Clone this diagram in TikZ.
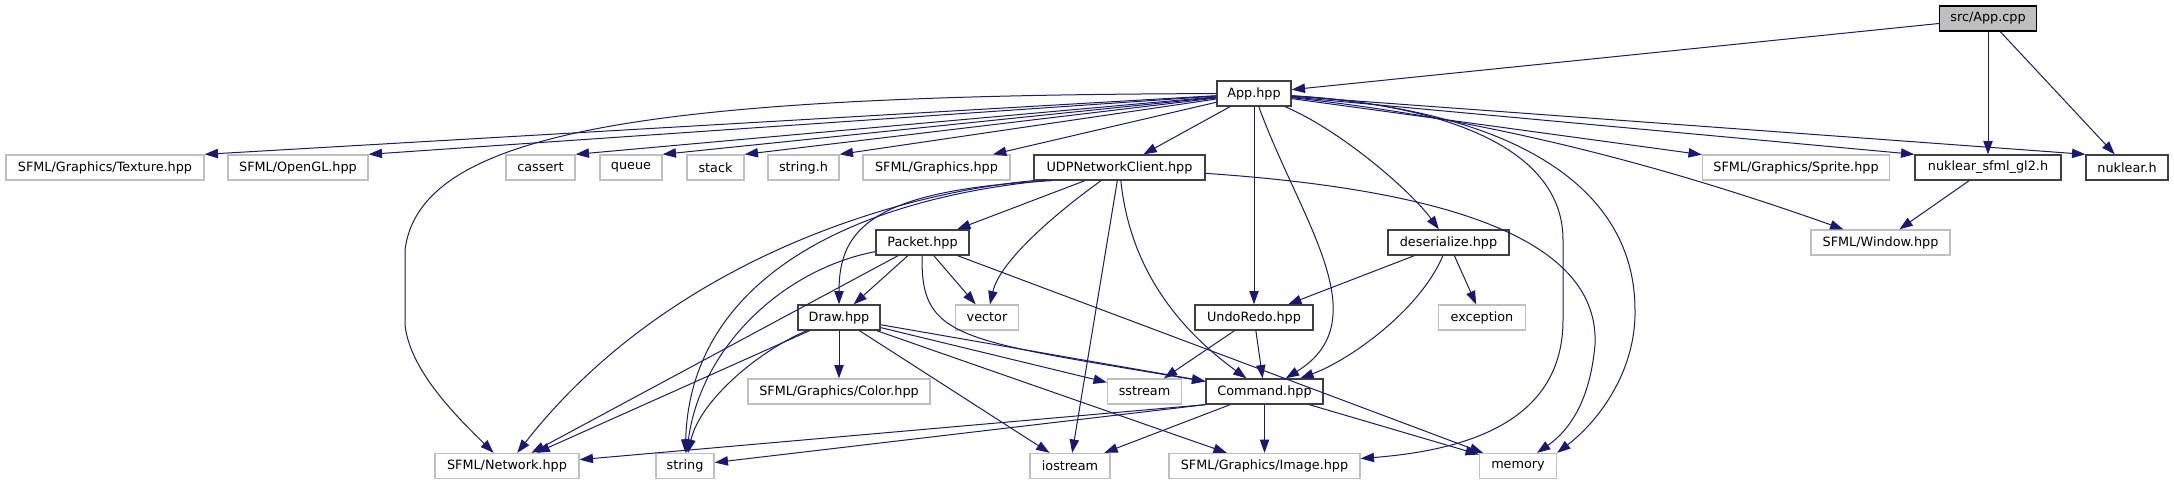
\documentclass[tikz,border=0pt]{standalone}
\usepackage{fontspec}
\setmainfont{DejaVu Sans}
\usetikzlibrary{arrows.meta}
\definecolor{edgeblue}{HTML}{191970}
\definecolor{grey25}{HTML}{404040}
\definecolor{grey75}{HTML}{BFBFBF}

\begin{document}
\begin{tikzpicture}[x=0.75pt,y=-0.75pt,
  every node/.style={font=\fontsize{9.6}{11}\selectfont,inner sep=0pt,minimum height=18.75pt},
  hdr/.style={draw=grey25,line width=1pt,fill=white,minimum width=#1*0.75pt},
  sys/.style={draw=grey75,line width=1pt,fill=white,minimum width=#1*0.75pt},
  root/.style={draw=black,line width=1pt,fill=grey75,minimum width=#1*0.75pt},
  ar/.style={-{Triangle[length=10pt,width=7pt]},draw=edgeblue,line width=0.75pt}]
\fill[white] (0,0) rectangle (2174,485);
% includes, row by row
\node[root=97] (appcpp) at (1988,18.5) {src/App.cpp};
\node[hdr=74] (apphpp) at (1254,93.5) {App.hpp};
\node[sys=198] (texture) at (105,167.5) {SFML/Graphics/Texture.hpp};
\node[sys=140] (opengl) at (298,167.5) {SFML/OpenGL.hpp};
\node[sys=69] (cassert) at (540.5,167.5) {cassert};
\node[sys=62] (queue) at (631,167.5) {queue};
\node[sys=57] (stack) at (715.5,167.5) {stack};
\node[sys=71] (stringh) at (803.5,167.5) {string.h};
\node[sys=147] (graphics) at (936.5,167.5) {SFML/Graphics.hpp};
\node[hdr=171] (udp) at (1119.5,167.5) {UDPNetworkClient.hpp};
\node[sys=187] (sprite) at (1796,167.5) {SFML/Graphics/Sprite.hpp};
\node[hdr=146] (nsfml) at (1988,167.5) {nuklear\_sfml\_gl2.h};
\node[hdr=82] (nuklear) at (2127,167.5) {nuklear.h};
\node[hdr=93] (packet) at (922.5,242.5) {Packet.hpp};
\node[hdr=121] (deser) at (1448.5,242.5) {deserialize.hpp};
\node[sys=139] (window) at (1880.5,242.5) {SFML/Window.hpp};
\node[hdr=82] (drawh) at (839,317.5) {Draw.hpp};
\node[sys=63] (vector) at (987,317.5) {vector};
\node[hdr=118] (undoredo) at (1254,317.5) {UndoRedo.hpp};
\node[sys=87] (exception) at (1482,317.5) {exception};
\node[sys=182] (colorh) at (839,391.5) {SFML/Graphics/Color.hpp};
\node[sys=74] (sstream) at (1144.5,391.5) {sstream};
\node[hdr=117] (command) at (1264.5,391.5) {Command.hpp};
\node[sys=144] (network) at (507,466) {SFML/Network.hpp};
\node[sys=58] (string) at (685,466) {string};
\node[sys=80] (iostream) at (1070,466) {iostream};
\node[sys=191] (image) at (1264.5,466) {SFML/Graphics/Image.hpp};
\node[sys=77] (memory) at (1518,466) {memory};
% src/App.cpp
\foreach \x in {apphpp,nsfml,nuklear} \draw[ar] (appcpp) -- (\x);
% App.hpp
\foreach \x in {texture,opengl,cassert,queue,stack,stringh} \draw[ar] (apphpp) -- (\x.north east);
\foreach \x in {graphics,udp,undoredo,sprite} \draw[ar] (apphpp) -- (\x);
\foreach \x in {nsfml,nuklear} \draw[ar] (apphpp) -- (\x.north west);
\draw[ar] (apphpp) .. controls (650,95) and (420,130) .. (405,250) -- (405,325) .. controls (410,370) and (455,415) .. (network);
\draw[ar] (apphpp) .. controls (1450,115) and (1620,150) .. (window);
\draw[ar] (apphpp) .. controls (1340,130) and (1410,190) .. (deser);
\draw[ar] (apphpp) .. controls (1300,220) and (1380,320) .. (command);
\draw[ar] (apphpp) .. controls (1450,105) and (1563,150) .. (1563,240) -- (1563,320) .. controls (1563,420) and (1470,450) .. (image);
\draw[ar] (apphpp) .. controls (1520,110) and (1635,190) .. (1635,310) .. controls (1636,370) and (1600,420) .. (memory.north east);
% UDPNetworkClient.hpp
\foreach \x in {packet,iostream} \draw[ar] (udp) -- (\x);
\draw[ar] (udp.south west) .. controls (880,195) and (660,270) .. (network);
\draw[ar] (udp.190) .. controls (850,200) and (690,280) .. (string);
\draw[ar] (udp.191) .. controls (870,190) and (839,230) .. (drawh);
\draw[ar] (udp) .. controls (1060,210) and (1000,260) .. (vector);
\draw[ar] (udp) .. controls (1130,270) and (1180,330) .. (command);
\draw[ar] (udp) .. controls (1450,190) and (1600,240) .. (1595,345) .. controls (1590,400) and (1570,430) .. (memory);
% Packet.hpp
\foreach \x in {drawh,vector,network,memory} \draw[ar] (packet) -- (\x);
\draw[ar] (packet) .. controls (780,270) and (700,350) .. (string);
\draw[ar] (packet) .. controls (920,340) and (960,340) .. (command);
% Draw.hpp
\foreach \x in {colorh,network,iostream,image,sstream,command} \draw[ar] (drawh) -- (\x);
\draw[ar] (drawh) .. controls (760,350) and (700,400) .. (string);
% the rest
\draw[ar] (nsfml) -- (window);
\foreach \x in {undoredo,exception} \draw[ar] (deser) -- (\x);
\draw[ar] (deser) .. controls (1420,310) and (1350,360) .. (command);
\foreach \x in {sstream,command} \draw[ar] (undoredo) -- (\x);
\foreach \x in {iostream,image,memory} \draw[ar] (command) -- (\x);
\foreach \x in {network,string} \draw[ar] (command.south west) -- (\x);
\end{tikzpicture}
\end{document}
